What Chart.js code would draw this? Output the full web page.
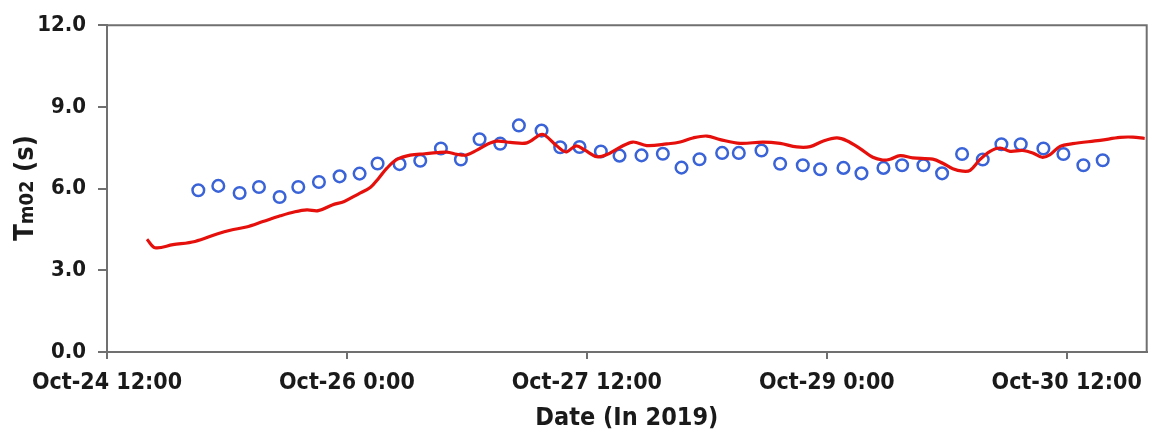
<!DOCTYPE html>
<html lang="en">
<head>
    <meta charset="UTF-8">
    <title>Tm02 (s)</title>
    <script src="https://cdn.jsdelivr.net/npm/chart.js"></script>
    <style>
        html, body { margin: 0; padding: 0; background: #fff; overflow: hidden; }
        #wrap { width: 1151px; height: 434px; overflow: hidden; }
    </style>
</head>
<body>
<div id="wrap"><canvas id="myChart" width="1155" height="434"></canvas></div>

<script>
    // hours counted from Oct-24 12:00
    const tickHours = [0, 36, 72, 108, 144];
    const tickLabels = ['Oct-24 12:00', 'Oct-26 0:00', 'Oct-27 12:00', 'Oct-29 0:00', 'Oct-30 12:00'];

    // observed (blue circles)
    const obsHours = [13.7, 16.7, 19.9, 22.8, 25.9, 28.7, 31.8, 34.9, 37.9, 40.6,
        43.9, 47.0, 50.1, 53.1, 55.9, 59.0, 61.8, 65.2, 68.0, 70.9,
        74.1, 76.9, 80.2, 83.4, 86.2, 88.9, 92.3, 94.8, 98.2, 101.0,
        104.4, 107.0, 110.5, 113.2, 116.5, 119.3, 122.5, 125.3, 128.3, 131.4,
        134.2, 137.1, 140.5, 143.5, 146.5, 149.4];
    const obsValues = [5.94, 6.10, 5.84, 6.06, 5.69, 6.06, 6.24, 6.45, 6.55, 6.92,
        6.90, 7.02, 7.47, 7.07, 7.81, 7.65, 8.32, 8.13, 7.52, 7.53,
        7.36, 7.21, 7.22, 7.28, 6.77, 7.08, 7.31, 7.31, 7.40, 6.91,
        6.86, 6.71, 6.76, 6.56, 6.76, 6.86, 6.86, 6.56, 7.27, 7.07,
        7.63, 7.63, 7.47, 7.27, 6.86, 7.04];

    // model (red line)
    const modelHours = [6.0, 7.2, 9.9, 13.2, 16.5, 18.5, 20.9, 23.4, 26.0, 28.2,
        30.0, 31.7, 33.8, 35.6, 37.7, 39.5, 40.8, 42.0, 43.5, 45.5,
        47.7, 49.5, 51.0, 52.5, 53.9, 55.5, 57.0, 58.5, 60.5, 63.0,
        65.0, 65.7, 67.2, 68.4, 69.0, 70.4, 71.7, 73.5, 75.0, 77.0,
        78.9, 81.0, 84.0, 86.0, 87.9, 90.0, 92.0, 95.0, 98.4, 101.0,
        103.5, 105.5, 107.4, 109.5, 111.0, 113.0, 114.9, 116.4, 117.5, 119.0,
        120.9, 123.9, 125.4, 126.9, 128.4, 129.5, 131.0, 132.5, 134.0, 135.5,
        137.4, 138.9, 140.3, 141.5, 143.0, 144.9, 149.0, 152.0, 153.9, 155.7];
    const modelValues = [4.14, 3.83, 3.94, 4.06, 4.33, 4.47, 4.59, 4.79, 5.00, 5.15,
        5.22, 5.19, 5.40, 5.53, 5.80, 6.04, 6.39, 6.75, 7.07, 7.23,
        7.28, 7.32, 7.34, 7.26, 7.23, 7.41, 7.62, 7.74, 7.70, 7.68,
        7.98, 7.96, 7.63, 7.39, 7.35, 7.57, 7.41, 7.17, 7.25, 7.52,
        7.71, 7.58, 7.64, 7.71, 7.86, 7.93, 7.80, 7.66, 7.71, 7.66,
        7.53, 7.54, 7.74, 7.86, 7.76, 7.47, 7.15, 7.05, 7.08, 7.21,
        7.13, 7.08, 6.93, 6.73, 6.64, 6.67, 7.07, 7.37, 7.49, 7.37,
        7.40, 7.31, 7.15, 7.25, 7.55, 7.65, 7.77, 7.88, 7.89, 7.84];

    const fontFam = "'DejaVu Sans Condensed', 'DejaVu Sans', Verdana, sans-serif";
    const axisGray = '#707070';
    const textCol = '#1a1a1a';

    // axis titles, drawn by hand so the subscript-like "m02" can be smaller
    const titlesPlugin = {
        id: 'titles',
        afterDraw(chart) {
            const ctx = chart.ctx;
            const area = chart.chartArea;
            ctx.save();
            ctx.fillStyle = textCol;
            ctx.textBaseline = 'alphabetic';

            // x title
            ctx.font = "bold 25px " + fontFam;
            ctx.textAlign = 'center';
            ctx.fillText('Date (In 2019)', (area.left + area.right) / 2, 425);

            // y title
            const parts = [['T', 27], ['m02', 20], [' (s)', 27]];
            let total = 0;
            parts.forEach(p => {
                ctx.font = 'bold ' + p[1] + 'px ' + fontFam;
                total += ctx.measureText(p[0]).width;
            });
            ctx.translate(33, 188);
            ctx.rotate(-Math.PI / 2);
            ctx.textAlign = 'left';
            let x = -total / 2;
            parts.forEach(p => {
                ctx.font = 'bold ' + p[1] + 'px ' + fontFam;
                ctx.fillText(p[0], x, 0);
                x += ctx.measureText(p[0]).width;
            });
            ctx.restore();

            // box round the plot
            ctx.save();
            ctx.strokeStyle = axisGray;
            ctx.lineWidth = 2;
            ctx.beginPath();
            ctx.moveTo(area.left, area.top);
            ctx.lineTo(area.right, area.top);
            ctx.lineTo(area.right, area.bottom);
            ctx.stroke();
            ctx.restore();
        }
    };

    const ctx = document.getElementById('myChart').getContext('2d');
    new Chart(ctx, {
        type: 'scatter',
        data: {
            datasets: [{
                label: 'Model',
                type: 'line',
                data: modelHours.map((h, i) => ({x: h, y: modelValues[i]})),
                borderColor: '#e5100c',
                borderWidth: 3.2,
                pointRadius: 0,
                tension: 0.35,
                fill: false,
                order: 1
            }, {
                label: 'Observed',
                data: obsHours.map((h, i) => ({x: h, y: obsValues[i]})),
                pointStyle: 'circle',
                pointRadius: 5.8,
                pointBorderWidth: 2.5,
                borderColor: '#3a63d8',
                backgroundColor: 'rgba(0,0,0,0)',
                order: 2
            }]
        },
        options: {
            responsive: false,
            animation: false,
            layout: { padding: { top: 24, right: 0, left: 0, bottom: 0 } },
            plugins: { legend: { display: false }, tooltip: { enabled: false } },
            scales: {
                x: {
                    type: 'linear',
                    min: 0,
                    max: 156,
                    afterBuildTicks: (scale) => { scale.ticks = tickHours.map(v => ({value: v})); },
                    afterFit: (scale) => {
                        scale.height = 82;
                        scale.paddingLeft = 0;
                        scale.paddingRight = 0;
                    },
                    ticks: {
                        callback: (v) => tickLabels[tickHours.indexOf(v)],
                        font: { family: fontFam, size: 23, weight: 'bold' },
                        color: textCol,
                        padding: 10,
                        maxRotation: 0,
                        autoSkip: false
                    },
                    grid: { drawOnChartArea: false, tickLength: 7, color: axisGray, lineWidth: 2 },
                    border: { color: axisGray, width: 2 }
                },
                y: {
                    min: 0,
                    max: 12,
                    afterFit: (scale) => { scale.width = 107; },
                    ticks: {
                        stepSize: 3,
                        callback: (v) => v.toFixed(1),
                        font: { family: fontFam, size: 22, weight: 'bold' },
                        color: textCol,
                        padding: 12
                    },
                    grid: { drawOnChartArea: false, tickLength: 9, color: axisGray, lineWidth: 2 },
                    border: { color: axisGray, width: 2 }
                }
            }
        },
        plugins: [titlesPlugin]
    });
</script>
</body>
</html>
